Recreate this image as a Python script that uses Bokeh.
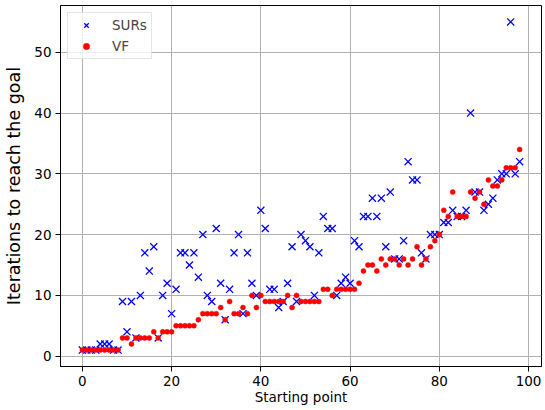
from bokeh.plotting import figure
from bokeh.models import Range1d, FixedTicker
from bokeh.embed import file_html
from bokeh.resources import INLINE

starting_points = list(range(99))
surs = [1, 1, 1, 1, 2, 2, 2, 1, 1, 9, 4, 9, 3, 10, 17, 14, 18, 3, 10, 12,
        7, 11, 17, 17, 15, 17, 13, 20, 10, 9, 21, 12, 6, 11, 17, 20, 7, 17, 12, 10,
        24, 21, 11, 11, 8, 9, 12, 18, 9, 20, 19, 18, 10, 17, 23, 21, 21, 10, 12, 13,
        12, 19, 18, 23, 23, 26, 23, 26, 18, 27, 16, 16, 19, 32, 29, 29, 17, 16, 20, 20,
        20, 22, 22, 24, 23, 23, 24, 40, 27, 27, 24, 25, 26, 29, 30, 30, 55, 30, 32]
vf = [1, 1, 1, 1, 1, 1, 1, 1, 1, 3, 3, 2, 3, 3, 3, 3, 4, 3, 4, 4,
      4, 5, 5, 5, 5, 5, 6, 7, 7, 7, 7, 8, 6, 9, 7, 7, 8, 7, 10, 8,
      10, 9, 9, 9, 9, 9, 10, 8, 10, 9, 9, 9, 9, 9, 11, 11, 10, 11, 11, 11,
      11, 11, 12, 14, 15, 15, 14, 16, 15, 16, 16, 15, 16, 15, 16, 18, 15, 16, 18, 19,
      20, 24, 23, 27, 23, 23, 23, 27, 26, 27, 25, 29, 28, 28, 29, 31, 31, 31, 34]
x_ticks = [0, 20, 40, 60, 80, 100]
y_ticks = [0, 10, 20, 30, 40, 50]

FONT = "DejaVu Sans"

p = figure(width=545, height=410,
           x_range=Range1d(-4.9, 102.9), y_range=Range1d(-1.7, 57.7),
           output_backend="svg", toolbar_location=None,
           min_border_left=60, min_border_right=4, min_border_top=5,
           min_border_bottom=44)

p.scatter(starting_points, surs, marker="x", size=10, line_color="#0000ff",
          line_width=1.3, legend_label="SURs")
p.scatter(starting_points, vf, marker="circle", size=5, fill_color="#ff0000",
          line_color="#ff0000", line_width=0.5, legend_label="VF")

p.xaxis.ticker = FixedTicker(ticks=x_ticks)
p.yaxis.ticker = FixedTicker(ticks=y_ticks)
for ax in (p.xaxis, p.yaxis):
    ax.major_label_text_font = FONT
    ax.major_label_text_font_size = "13.5px"
    ax.major_label_text_color = "#000000"
    ax.axis_label_text_font = FONT
    ax.axis_label_text_font_style = "normal"
    ax.axis_label_text_color = "#000000"
    ax.major_tick_out = 5
    ax.major_tick_in = 0
    ax.minor_tick_line_color = None
    ax.major_tick_line_color = "#000000"
    ax.axis_line_color = "#000000"
    ax.major_label_standoff = 4

p.xaxis.axis_label = "Starting point"
p.xaxis.axis_label_text_font_size = "13.5px"
p.xaxis.axis_label_standoff = 0
p.yaxis.axis_label = "Iterations to reach the goal"
p.yaxis.axis_label_text_font_size = "17.5px"
p.yaxis.axis_label_standoff = 7

p.grid.grid_line_color = "#b0b0b0"
p.grid.grid_line_width = 1
p.outline_line_color = "#000000"
p.outline_line_width = 1
p.background_fill_color = "white"
p.border_fill_color = "white"

lg = p.legend[0]
lg.location = "top_left"
lg.margin = 7
lg.padding = 4
lg.spacing = 5
lg.glyph_width = 28
lg.glyph_height = 16
lg.label_height = 16
lg.label_standoff = 12
lg.label_text_font = FONT
lg.label_text_font_size = "13.5px"
lg.border_line_color = "#cccccc"
lg.border_line_width = 1
lg.background_fill_alpha = 0.8

open("out.html", "w").write(file_html(p, INLINE))
